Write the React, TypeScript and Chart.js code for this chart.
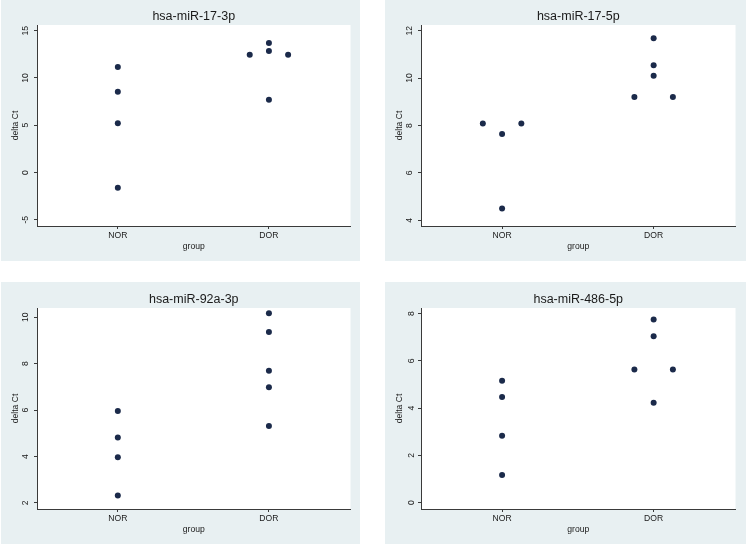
import React, { useEffect, useRef } from "react";
import { Chart, registerables } from "chart.js";

Chart.register(...registerables);

// ---- data ----
const groups = ["NOR", "DOR"];
const xAxisTitle = "group";
const yAxisTitle = "delta Ct";

const title17_3p = "hsa-miR-17-3p";
const x17_3p = [1, 1, 1, 1, 1.873, 2, 2, 2.127, 2];
const y17_3p = [11.15, 8.55, 5.2, -1.62, 12.45, 13.7, 12.85, 12.45, 7.7];
const ticks17_3p = [-5, 0, 5, 10, 15];
const range17_3p = [-5.66, 15.6];

const title17_5p = "hsa-miR-17-5p";
const x17_5p = [0.873, 1, 1.127, 1, 1.873, 2, 2, 2, 2.127];
const y17_5p = [8.08, 7.64, 8.08, 4.5, 9.2, 11.68, 10.54, 10.1, 9.2];
const ticks17_5p = [4, 6, 8, 10, 12];
const range17_5p = [3.76, 12.24];

const title92a_3p = "hsa-miR-92a-3p";
const x92a_3p = [1, 1, 1, 1, 2, 2, 2, 2, 2];
const y92a_3p = [5.96, 4.82, 3.97, 2.32, 10.17, 9.37, 7.7, 6.99, 5.32];
const ticks92a_3p = [2, 4, 6, 8, 10];
const range92a_3p = [1.74, 10.4];

const title486_5p = "hsa-miR-486-5p";
const x486_5p = [1, 1, 1, 1, 2, 2, 1.873, 2.127, 2];
const y486_5p = [5.16, 4.47, 2.83, 1.17, 7.75, 7.04, 5.64, 5.64, 4.23];
const ticks486_5p = [0, 2, 4, 6, 8];
const range486_5p = [-0.27, 8.24];

const xRange = [0.465, 2.54];
const xTicks = [1, 2];

// ---- styles ----
const FONT = "'Liberation Sans', Arial, Helvetica, sans-serif";
const BG = "#e8f0f2";
const DOT = "#1b2a4a";
const AXIS = "#3a3a3a";
const TEXT = "#1a1a1a";

const bgPlugin = {
  id: "panelBg",
  beforeDraw(chart: any) {
    const { ctx, chartArea: a, width, height } = chart;
    ctx.save();
    ctx.fillStyle = BG;
    ctx.fillRect(0, 0, width, height);
    ctx.fillStyle = "#ffffff";
    ctx.fillRect(a.left, a.top, a.right - a.left, a.bottom - a.top);
    ctx.restore();
  },
};

type PanelProps = {
  left: number;
  top: number;
  width: number;
  height: number;
  rightPad: number;
  title: string;
  xs: number[];
  ys: number[];
  yTicks: number[];
  yRange: number[];
};

function Panel(p: PanelProps) {
  const ref = useRef<HTMLCanvasElement | null>(null);
  useEffect(() => {
    if (!ref.current) return;
    const small = { family: FONT, size: 8.6, lineHeight: 1.2 };
    const gridOpts = {
      display: true,
      drawOnChartArea: false,
      drawTicks: true,
      tickLength: 3,
      tickColor: AXIS,
      tickWidth: 1,
    };
    const borderOpts = { display: true, color: AXIS, width: 1 };
    const chart = new Chart(ref.current, {
      type: "scatter",
      data: {
        datasets: [
          {
            data: p.xs.map((x, i) => ({ x, y: p.ys[i] })),
            pointRadius: 3,
            pointHoverRadius: 3,
            backgroundColor: DOT,
            borderColor: DOT,
            borderWidth: 0,
          },
        ],
      },
      options: {
        responsive: false,
        animation: false,
        layout: { padding: { left: 0, top: 0, bottom: 0, right: p.rightPad } },
        plugins: {
          legend: { display: false },
          tooltip: { enabled: false },
          title: {
            display: true,
            text: p.title,
            fullSize: false,
            color: TEXT,
            font: { family: FONT, size: 12.5, weight: "normal", lineHeight: 1.2 },
            padding: { top: 10.5, bottom: 0.5 },
          },
        },
        scales: {
          x: {
            type: "linear",
            min: xRange[0],
            max: xRange[1],
            afterBuildTicks: (s: any) => {
              s.ticks = xTicks.map((v) => ({ value: v }));
            },
            afterFit: (s: any) => {
              s.height = 35;
            },
            ticks: {
              callback: (v: any) => groups[Number(v) - 1],
              font: small,
              color: TEXT,
              padding: 1,
              maxRotation: 0,
              autoSkip: false,
            },
            grid: gridOpts,
            border: borderOpts,
            title: {
              display: true,
              text: xAxisTitle,
              font: small,
              color: TEXT,
              padding: { top: 0, bottom: 9.5 },
            },
          },
          y: {
            type: "linear",
            min: p.yRange[0],
            max: p.yRange[1],
            afterBuildTicks: (s: any) => {
              s.ticks = p.yTicks.map((v) => ({ value: v }));
            },
            afterFit: (s: any) => {
              s.width = 36;
            },
            ticks: {
              minRotation: 90,
              maxRotation: 90,
              crossAlign: "center",
              padding: 4,
              font: small,
              color: TEXT,
              autoSkip: false,
            },
            grid: gridOpts,
            border: borderOpts,
            title: {
              display: true,
              text: yAxisTitle,
              font: small,
              color: TEXT,
              padding: { top: 9.5, bottom: 0 },
            },
          },
        },
      } as any,
      plugins: [bgPlugin],
    });
    return () => chart.destroy();
  }, []);
  return (
    <div
      style={{
        position: "absolute",
        left: p.left,
        top: p.top,
        width: p.width,
        height: p.height,
        background: BG,
      }}
    >
      <canvas
        ref={ref}
        width={p.width}
        height={p.height}
        style={{ display: "block", width: p.width, height: p.height }}
      />
    </div>
  );
}

export default function App() {
  return (
    <div
      style={{
        position: "absolute",
        left: 0,
        top: 0,
        width: 746,
        height: 545,
        background: "#ffffff",
        overflow: "hidden",
      }}
    >
      <Panel left={1} top={-1} width={359} height={262} rightPad={9.5} title={title17_3p} xs={x17_3p} ys={y17_3p} yTicks={ticks17_3p} yRange={range17_3p} />
      <Panel left={385} top={-1} width={361} height={262} rightPad={10.5} title={title17_5p} xs={x17_5p} ys={y17_5p} yTicks={ticks17_5p} yRange={range17_5p} />
      <Panel left={1} top={282} width={359} height={262} rightPad={9.5} title={title92a_3p} xs={x92a_3p} ys={y92a_3p} yTicks={ticks92a_3p} yRange={range92a_3p} />
      <Panel left={385} top={282} width={361} height={262} rightPad={10.5} title={title486_5p} xs={x486_5p} ys={y486_5p} yTicks={ticks486_5p} yRange={range486_5p} />
    </div>
  );
}
